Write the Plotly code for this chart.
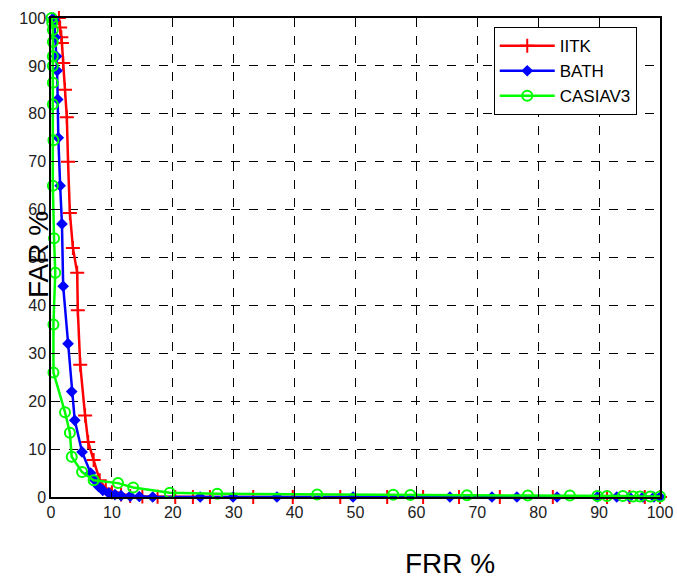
import plotly.graph_objects as go

iitk_x = [1.3, 1.5, 1.7, 1.8, 2.0, 2.3, 2.6, 2.8, 3.1, 3.6, 4.3, 4.4, 4.8, 5.6, 6.1, 7.0, 8.0, 9.0, 10.0, 11.5, 13.0, 15.0, 17.5,
          20.4, 23.3, 26.1, 33.2, 39.7, 47.5, 55.2, 61.1, 67.0, 73.7, 82.4, 91.3, 95.0, 97.5, 100.0]
iitk_y = [100, 98, 96, 94.8, 90.6, 85, 79.3, 70, 59.3, 52, 46.8, 39, 27.6, 17, 11.5, 7.7, 3.5, 1.8, 1.0, 0.5, 0.2, 0.1, 0.05,
          0, 0, 0, 0, 0, 0, 0, 0, 0, 0, 0, 0, 0, 0, 0]

bath_x = [0.4, 0.5, 0.7, 0.9, 1.0, 1.1, 1.2, 1.5, 1.8, 2.0, 2.8, 3.4, 3.9, 5.1, 6.5, 7.2, 7.8, 8.5, 9.5, 10.5, 11.5, 13.0, 14.5,
          16.7, 24.5, 29.9, 37.1, 49.6, 65.5, 72.4, 76.5, 83.1, 89.7, 92.9, 95.0, 97.2, 99.0, 100.0]
bath_y = [100, 99.5, 96, 92, 89, 83, 75, 65, 57, 44, 32, 22, 16, 9.4, 5.0, 3.5, 2.2, 1.4, 0.8, 0.5, 0.3, 0.2, 0.1,
          0, 0, 0, 0, 0, 0, 0, 0, 0, 0, 0, 0, 0, 0, 0]

casia_x = [0.1, 0.2, 0.3, 0.3, 0.3, 0.3, 0.3, 0.3, 0.4, 0.3, 0.5, 0.7, 0.4, 0.4, 2.3, 3.1, 3.4, 5.1, 7.0, 11.0, 13.5,
           19.5, 27.3, 43.7, 56.2, 59.0, 68.3, 78.3, 85.2, 89.7, 91.3, 93.9, 95.6, 96.7, 98.4, 100.0]
casia_y = [100, 99, 97.5, 95, 92, 90, 86.5, 82, 74.5, 65, 54, 46.8, 36, 26, 17.7, 13.4, 8.4, 5.2, 3.5, 2.9, 2.0,
           0.9, 0.7, 0.5, 0.45, 0.4, 0.35, 0.3, 0.3, 0.2, 0.2, 0.2, 0.1, 0.1, 0.1, 0.1]

ticks = list(range(0, 101, 10))

fig = go.Figure()
fig.add_trace(go.Scatter(x=iitk_x, y=iitk_y, name="IITK", mode="lines+markers",
                         line=dict(color="#ff0000", width=2.5),
                         marker=dict(symbol="cross-thin", size=10, line=dict(color="#ff0000", width=2)),
                         cliponaxis=False))
fig.add_trace(go.Scatter(x=bath_x, y=bath_y, name="BATH", mode="lines+markers",
                         line=dict(color="#0000ff", width=2.5),
                         marker=dict(symbol="diamond", size=9, color="#0000ff"),
                         cliponaxis=False))
fig.add_trace(go.Scatter(x=casia_x, y=casia_y, name="CASIAV3", mode="lines+markers",
                         line=dict(color="#00ff00", width=2.5),
                         marker=dict(symbol="circle-open", size=10, color="#00ff00", line=dict(width=2)),
                         cliponaxis=False))

axis_common = dict(range=[0, 100], tickvals=ticks, ticktext=[str(t) for t in ticks],
                   showgrid=True, gridcolor="black", griddash="dash", gridwidth=1,
                   showline=True, linecolor="black", linewidth=1.5, mirror=True,
                   ticks="inside", ticklen=5, tickcolor="black", zeroline=False,
                   automargin=False,
                   tickfont=dict(family="Arial, Liberation Sans", size=16, color="#222222"))

fig.update_xaxes(**axis_common)
fig.update_yaxes(**axis_common)

pw, ph = 677 - 51 - 17, 579 - 18 - 82

fig.update_layout(
    width=677, height=579,
    margin=dict(l=51, r=17, t=18, b=82, autoexpand=False),
    paper_bgcolor="white", plot_bgcolor="white",
    font=dict(family="Arial, Liberation Sans", color="black"),
    legend=dict(x=0.727, y=0.981, xanchor="left", yanchor="top",
                bgcolor="white", bordercolor="black", borderwidth=1,
                itemwidth=55,
                font=dict(size=17, color="black"), tracegroupgap=0),
    annotations=[
        dict(text="FRR %", x=(450 - 51) / pw, y=(497 - 563) / ph, xref="paper", yref="paper",
             xanchor="center", yanchor="middle", showarrow=False,
             font=dict(size=28, color="black")),
        dict(text="FAR %", x=(38 - 51) / pw, y=(497 - 255) / ph, xref="paper", yref="paper",
             xanchor="center", yanchor="middle", showarrow=False,
             textangle=-90, font=dict(size=28, color="black")),
    ],
)

fig.write_html("out.html", config={"displayModeBar": False},
               post_script="document.body.style.margin='0';document.body.style.padding='0';")
